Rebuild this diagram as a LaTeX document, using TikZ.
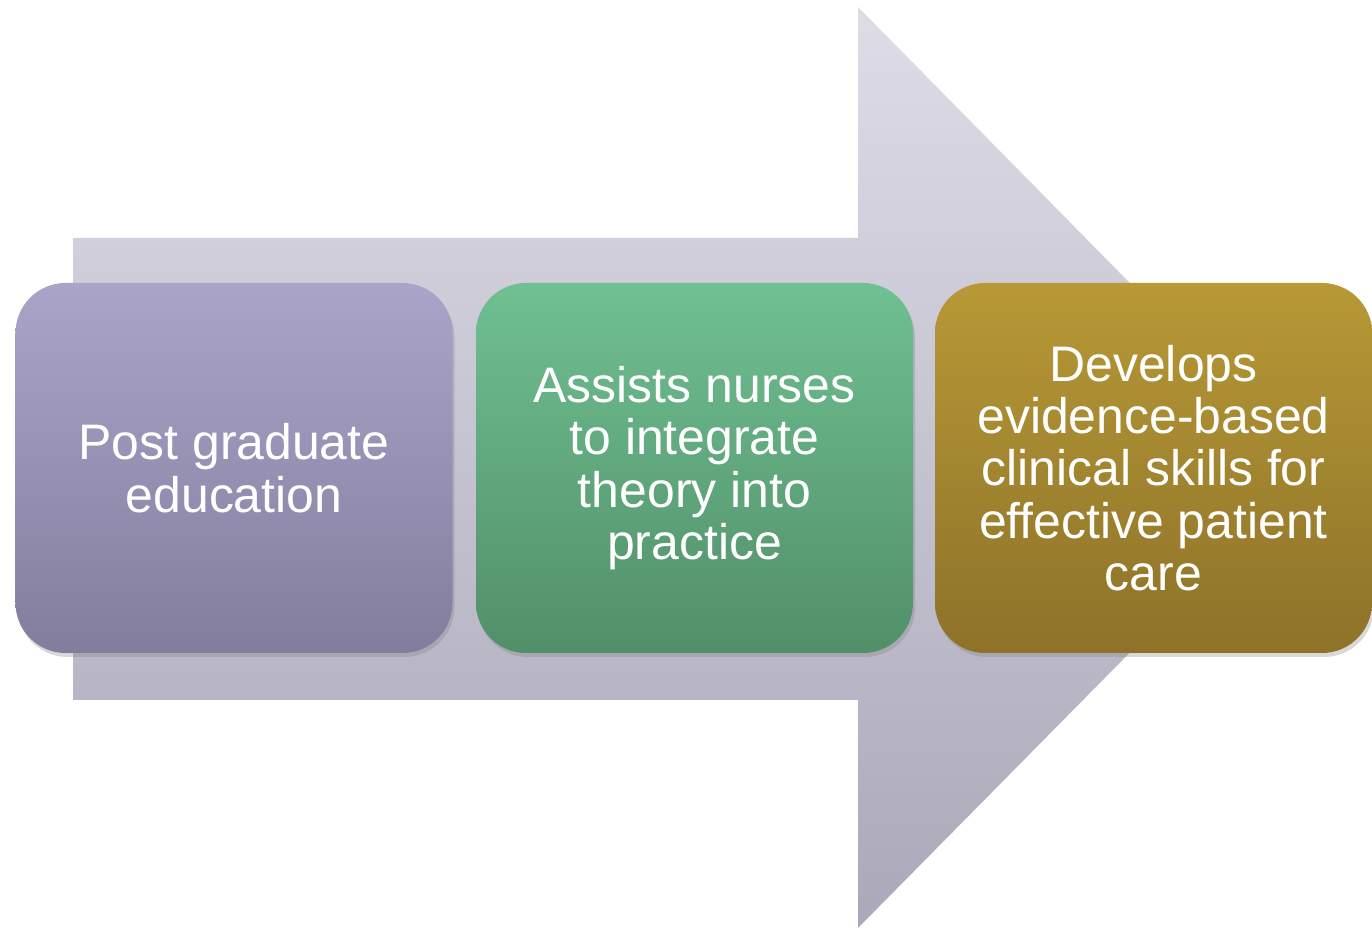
\documentclass[tikz,border=0pt]{standalone}
\usepackage{fontspec}
\setmainfont{Liberation Sans}
\usetikzlibrary{shadows}

\definecolor{arrowtop}{HTML}{DDDCE7}
\definecolor{arrowbot}{HTML}{ABA9B9}
\definecolor{lilactop}{HTML}{AAA4C9}
\definecolor{lilacbot}{HTML}{837D9D}
\definecolor{greentop}{HTML}{6FC092}
\definecolor{greenbot}{HTML}{528F68}
\definecolor{goldtop}{HTML}{B89936}
\definecolor{goldbot}{HTML}{8D7229}

\begin{document}
\begin{tikzpicture}
    \tikzset{
    stage/.style={rectangle,rounded corners=1cm,minimum width=8.74cm,minimum height=7.4cm,
      align=center,text=white,font=\fontsize{28.4}{29.8}\selectfont,
      drop shadow={opacity=0.3,shadow xshift=0.04cm,shadow yshift=-0.08cm}},
    s1/.style={stage,top color=lilactop,bottom color=lilacbot},
    s2/.style={stage,top color=greentop,bottom color=greenbot},
    s3/.style={stage,top color=goldtop,bottom color=goldbot},
    }
    \useasboundingbox (0,0) rectangle (27.44,18.58);

    % big arrow behind the boxes
    \shade[top color=arrowtop,bottom color=arrowbot]
      (1.46,13.82) -- (17.16,13.82) -- (17.16,18.44) -- (26.24,9.22)
      -- (17.16,0.02) -- (17.16,4.58) -- (1.46,4.58) -- cycle;

    \node[s1] (n1) at (4.68,9.22) {Post graduate\\education};
    \node[s2] (n2) at (13.89,9.22) {Assists nurses\\to integrate\\theory into\\practice};
    \node[s3] (n3) at (23.07,9.22) {Develops\\evidence-based\\clinical skills for\\effective patient\\care};

\end{tikzpicture}
\end{document}
